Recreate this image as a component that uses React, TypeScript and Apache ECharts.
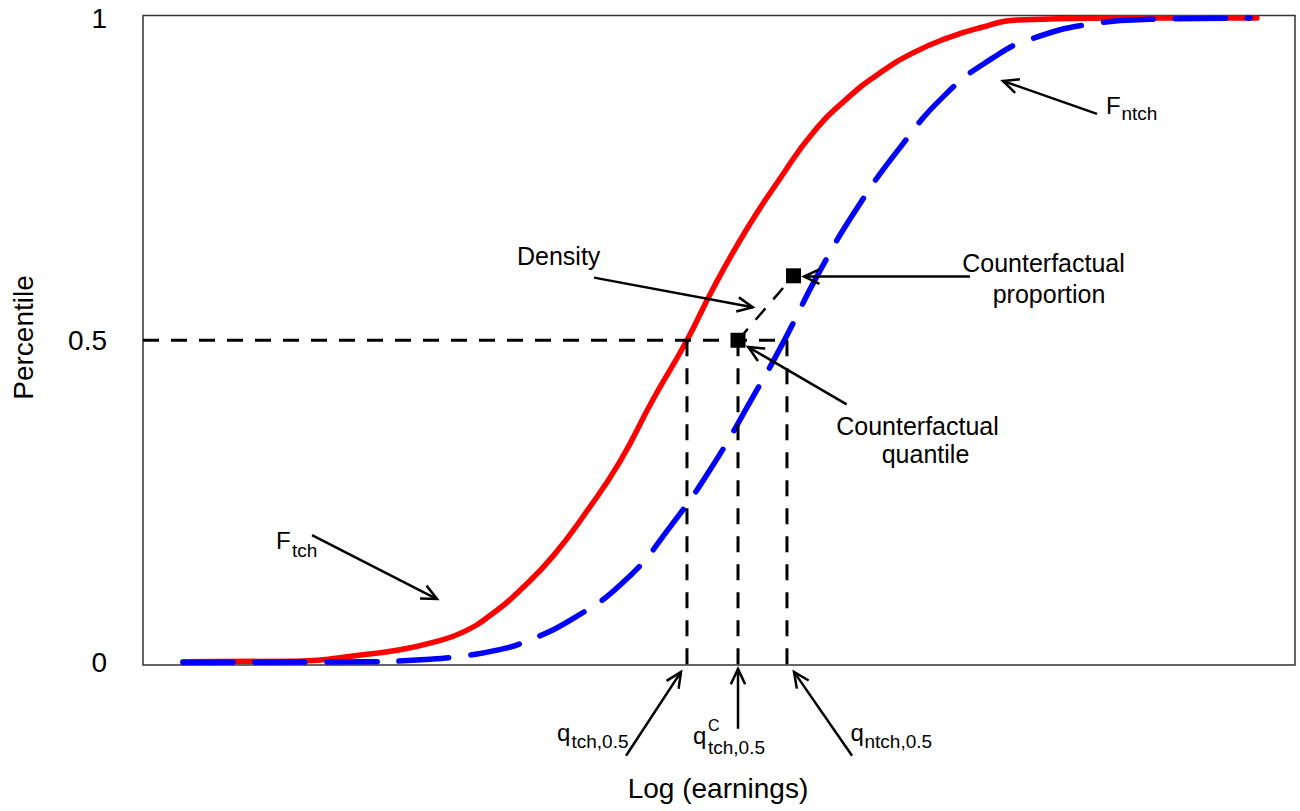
import React, { useEffect, useRef } from "react";
import * as echarts from "echarts";

// Cumulative distributions of log earnings (x in scaled units, y = percentile)
const fTch: [number, number][] = [
  [3.47, 0.001], [13.37, 0.002], [19.1, 0.012], [22.05, 0.019], [24.91, 0.03],
  [27.78, 0.047], [30.73, 0.081], [32.73, 0.112], [35.59, 0.165], [38.54, 0.235],
  [41.41, 0.312], [44.27, 0.408], [47.22, 0.5], [49.48, 0.58], [52.43, 0.673],
  [55.3, 0.751], [58.16, 0.822], [61.11, 0.875], [63.98, 0.915], [66.84, 0.946],
  [69.79, 0.969], [72.66, 0.985], [75.87, 0.997], [84.55, 1.0], [96.7, 1.0],
];

const fNtch: [number, number][] = [
  [3.47, 0.0], [19.1, 0.001], [24.91, 0.005], [27.78, 0.01], [30.73, 0.019],
  [33.16, 0.032], [37.14, 0.066], [41.84, 0.127], [45.82, 0.212], [49.51, 0.307],
  [52.91, 0.411], [55.44, 0.492], [58.77, 0.608], [62.02, 0.706], [65.71, 0.799],
  [69.69, 0.882], [73.67, 0.937], [77.0, 0.967], [82.81, 0.992], [87.41, 0.998],
  [96.09, 1.0],
];

// Medians and the counterfactual quantile
const qTch = 47.22;
const qCounterfactual = 51.65;
const qNtch = 55.9;
const medianLevel = 0.5;

// Counterfactual points: quantile (on the median) and proportion
const cfQuantile: [number, number] = [51.65, 0.5];
const cfProportion: [number, number] = [56.47, 0.6];

// Annotation arrows: [tailX, tailY, headX, headY]
const arrows: [number, number, number, number][] = [
  [39.15, 0.5972, 52.93, 0.5512], // Density
  [71.79, 0.5988, 57.38, 0.5988], // Counterfactual proportion
  [61.08, 0.4005, 52.54, 0.4895], // Counterfactual quantile
  [82.81, 0.8513, 74.65, 0.9024], // F ntch
  [14.67, 0.1975, 25.52, 0.0984], // F tch
  [41.93, -0.1448, 46.7, -0.0147], // q tch
  [51.65, -0.103, 51.65, -0.0101], // q C
  [61.55, -0.1448, 56.51, -0.0147], // q ntch
];

const yTickValues = [0, 0.5, 1];
const yTickLabels = ["0", "0.5", "1"];

const FONT = '"Liberation Sans", Arial, Helvetica, sans-serif';

function txt(
  text: string,
  x: number,
  y: number,
  size: number,
  align: "left" | "center" | "right" = "left",
  extra: Record<string, unknown> = {}
) {
  return {
    type: "text",
    x,
    y,
    ...extra,
    style: {
      text,
      fontSize: size,
      fontFamily: FONT,
      fill: "#000",
      align,
      verticalAlign: "middle",
    },
  };
}

function guide(data: [number, number][]) {
  return {
    type: "line",
    data,
    symbol: "none",
    silent: true,
    lineStyle: { color: "#000", width: 3, type: [16, 12], cap: "butt" },
    z: 3,
  };
}

export default function App() {
  const ref = useRef<HTMLDivElement>(null);

  useEffect(() => {
    if (!ref.current) return;
    const chart = echarts.init(ref.current, undefined, { renderer: "svg" });

    const option = {
      animation: false,
      backgroundColor: "#fff",
      grid: {
        left: 143,
        right: 5,
        top: 15.5,
        bottom: 146,
        show: true,
        borderColor: "#333",
        borderWidth: 1.5,
        backgroundColor: "transparent",
      },
      xAxis: {
        type: "value",
        min: 0,
        max: 100,
        show: false,
      },
      yAxis: {
        type: "value",
        min: -0.004,
        max: 1.004,
        axisLine: { show: false },
        axisTick: { show: false },
        splitLine: { show: false },
        axisLabel: {
          customValues: yTickValues,
          fontSize: 28,
          fontFamily: FONT,
          color: "#000",
          margin: 36,
          padding: [5, 0, 0, 0],
          formatter: (v: number) => {
            const i = yTickValues.indexOf(v);
            return i >= 0 ? yTickLabels[i] : "";
          },
        },
      },
      series: [
        {
          name: "F tch",
          type: "line",
          data: fTch,
          symbol: "none",
          smooth: 0.5,
          lineStyle: { color: "#ff0000", width: 5.5, cap: "round", join: "round" },
          z: 2,
        },
        {
          name: "F ntch",
          type: "line",
          data: fNtch,
          symbol: "none",
          smooth: 0.5,
          lineStyle: { color: "#0000ff", width: 5.5, type: [50, 22], cap: "round", join: "round" },
          z: 2,
        },
        guide([[0, medianLevel], [qNtch, medianLevel]]),
        guide([[qTch, medianLevel], [qTch, -0.004]]),
        guide([[qCounterfactual, medianLevel], [qCounterfactual, -0.004]]),
        guide([[qNtch, medianLevel], [qNtch, -0.004]]),
        {
          name: "Density",
          type: "line",
          data: [cfQuantile, cfProportion],
          symbol: "none",
          silent: true,
          lineStyle: { color: "#000", width: 2.5, type: [15, 12], cap: "butt" },
          z: 3,
        },
        {
          name: "Counterfactual",
          type: "scatter",
          data: [cfQuantile, cfProportion],
          symbol: "rect",
          symbolSize: 15,
          itemStyle: { color: "#000", opacity: 1 },
          z: 4,
        },
        {
          name: "Arrows",
          type: "custom",
          clip: false,
          silent: true,
          data: arrows,
          z: 5,
          renderItem: (_params: unknown, api: any) => {
            const p0 = api.coord([api.value(0), api.value(1)]);
            const p1 = api.coord([api.value(2), api.value(3)]);
            const ang = Math.atan2(p1[1] - p0[1], p1[0] - p0[0]);
            const len = 17;
            const spread = (25 * Math.PI) / 180;
            const h1 = [p1[0] - len * Math.cos(ang - spread), p1[1] - len * Math.sin(ang - spread)];
            const h2 = [p1[0] - len * Math.cos(ang + spread), p1[1] - len * Math.sin(ang + spread)];
            const style = { stroke: "#000", lineWidth: 2.5, fill: null };
            return {
              type: "group",
              children: [
                { type: "line", shape: { x1: p0[0], y1: p0[1], x2: p1[0], y2: p1[1] }, style },
                { type: "polyline", shape: { points: [h1, p1, h2] }, style },
              ],
            };
          },
        },
      ],
      graphic: {
        elements: [
          txt("Density", 517, 256, 25),
          txt("Counterfactual", 1043.5, 263, 25, "center"),
          txt("proportion", 1049, 294, 25, "center"),
          txt("Counterfactual", 917.5, 426, 25, "center"),
          txt("quantile", 925.5, 454, 25, "center"),
          txt("F", 276, 540, 24),
          txt("tch", 292, 550.5, 19),
          txt("F", 1106, 105, 24),
          txt("ntch", 1121.5, 113.5, 19),
          txt("q", 557, 732, 24),
          txt("tch,0.5", 571.5, 741.5, 19),
          txt("q", 693, 735.5, 24),
          txt("C", 708, 725, 16),
          txt("tch,0.5", 708, 747, 19),
          txt("q", 850.5, 732, 24),
          txt("ntch,0.5", 864.5, 741.5, 19),
          txt("Log (earnings)", 718, 788, 28, "center"),
          txt("Percentile", 23, 337.5, 28, "center", { rotation: Math.PI / 2 }),
        ],
      },
    };

    chart.setOption(option as any);
    return () => chart.dispose();
  }, []);

  return (
    <div
      ref={ref}
      style={{ position: "absolute", left: 0, top: 0, width: 1300, height: 811, background: "#fff" }}
    />
  );
}
